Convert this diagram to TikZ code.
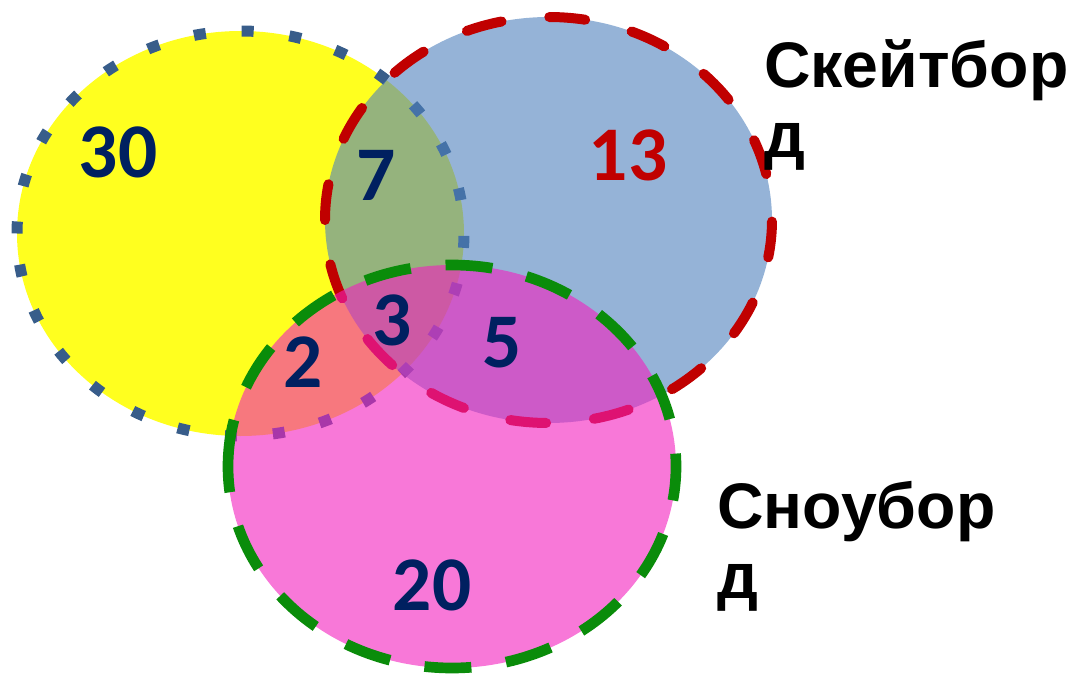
\documentclass[tikz,border=0pt]{standalone}
\usepackage{fontspec}
\newfontfamily\numfont{Carlito}
\newfontfamily\labfont{Liberation Sans}
\definecolor{yfill}{RGB}{255,255,31}
\definecolor{ydot}{RGB}{56,93,138}
\definecolor{bfill}{RGB}{79,129,189}
\definecolor{rline}{RGB}{192,0,0}
\definecolor{pfill}{RGB}{243,30,190}
\definecolor{gline}{RGB}{10,140,10}
\definecolor{navy}{RGB}{0,32,96}
\begin{document}
\begin{tikzpicture}[x=0.75pt,y=-0.75pt,
  num/.style={font=\numfont\bfseries\fontsize{58}{60}\selectfont, text=navy, inner sep=0pt, anchor=base},
  lab/.style={font=\labfont\bfseries\fontsize{48.3}{52.5}\selectfont, align=left, inner sep=0pt, anchor=north west},
  ydots/.style={draw=ydot, line width=8.25pt, dash pattern=on 9pt off 27pt},
  rdash/.style={draw=rline, line width=7.5pt, line cap=round, dash pattern=on 27pt off 36pt},
  gdash/.style={draw=gline, line width=8pt, dash pattern=on 35.25pt off 26.25pt},
  ]
\useasboundingbox (0,0) rectangle (1067,674);
% yellow set
\fill[yfill] (240.5,233.5) ellipse [x radius=223.5, y radius=202.5];
\path[ydots] (17,233.5) arc [start angle=180, end angle=540, x radius=223.5, y radius=202.5] -- cycle;
% blue set
\fill[bfill, fill opacity=0.6] (548.5,220) ellipse [x radius=223.5, y radius=203];
\path[rdash] (325,220) arc [start angle=180, end angle=540, x radius=223.5, y radius=203] -- cycle;
% pink set
\fill[pfill, fill opacity=0.6] (452,466.5) ellipse [x radius=224, y radius=201.5];
\path[gdash] (228,466.5) arc [start angle=180, end angle=540, x radius=224, y radius=201.5] -- cycle;
% numbers
\node[num] (n30) at (118,177) {30};
\node[num] (n7) at (376,200) {7};
\node[num, text=rline] (n13) at (628,180) {13};
\node[num] (n3) at (392,345) {3};
\node[num] (n2) at (303,387) {2};
\node[num] (n5) at (502,367) {5};
\node[num] (n20) at (432,610) {20};
% labels
\node[lab] (skate) at (764,39) {Скейтбор\\д};
\node[lab] (snow) at (717,481) {Сноубор\\д};
\end{tikzpicture}
\end{document}
